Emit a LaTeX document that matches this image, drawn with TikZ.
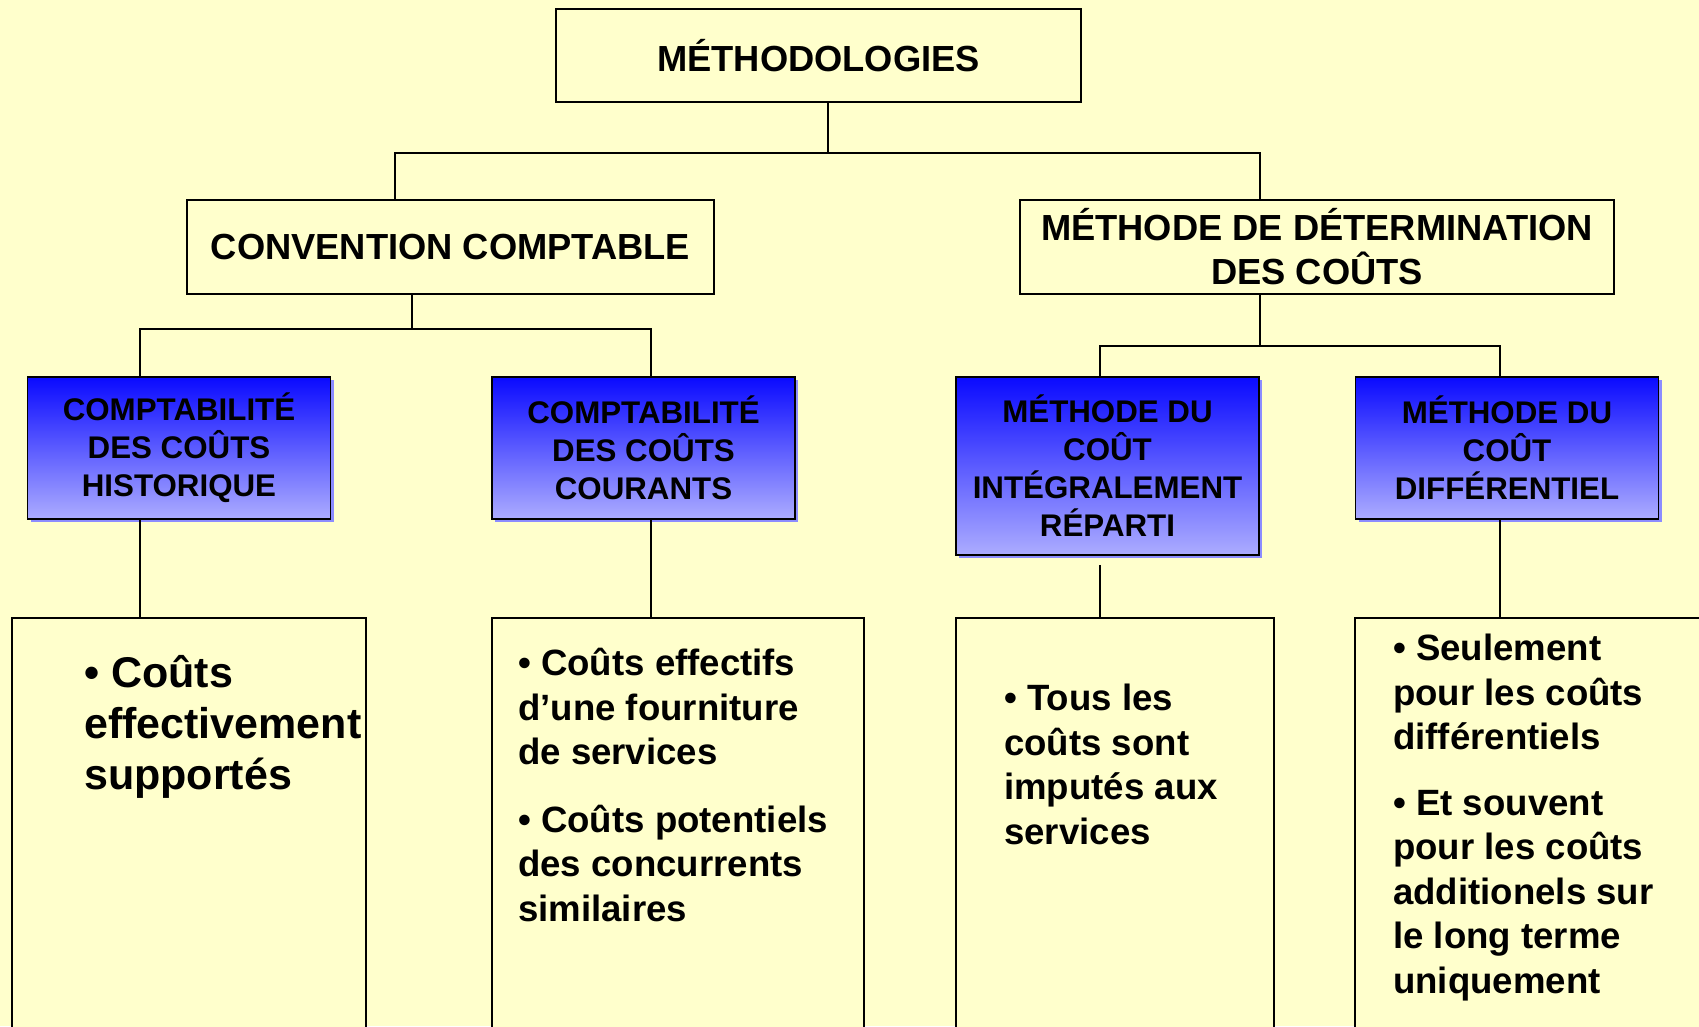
\documentclass[tikz,border=0pt]{standalone}
\usepackage{fontspec}
\setmainfont{Liberation Sans}
\usetikzlibrary{shadows}
\begin{document}
\begin{tikzpicture}[x=1pt,y=-1pt,
	box/.style={draw=black,line width=1.8pt,fill=bgyellow,inner sep=0pt,align=center,
		font=\bfseries\fontsize{36.3}{44}\selectfont},
	bluebox/.style={draw=black,line width=1.8pt,top color=topblue,bottom color=lowblue,
		inner sep=0pt,align=center,minimum width=303pt,font=\bfseries\fontsize{31.3}{38}\selectfont,
		drop shadow={shadow xshift=3pt,shadow yshift=-3pt,fill=shadeblue,opacity=1}},
	leafbox/.style={draw=black,line width=1.8pt,fill=bgyellow,inner sep=0pt,minimum height=440pt,anchor=north},
	leaftext/.style={anchor=north west,inner sep=0pt,align=left,font=\bfseries\fontsize{36.6}{44.5}\selectfont},
	link/.style={line width=1.8pt}]
	\definecolor{bgyellow}{RGB}{255,255,204}
	\definecolor{topblue}{RGB}{10,10,255}
	\definecolor{lowblue}{RGB}{172,172,255}
	\definecolor{shadeblue}{RGB}{140,140,255}

		\useasboundingbox (0,0) rectangle (1699,1026);
		\clip (0,0) rectangle (1699,1026);
		\fill[bgyellow] (0,0) rectangle (1699,1026);

		\node[box,minimum width=525pt,minimum height=93pt] (root) at (818.5,55.5) {MÉTHODOLOGIES};
		\node[box,minimum width=527pt,minimum height=94pt] (conv) at (450.5,247) {CONVENTION COMPTABLE};
		\node[box,minimum width=594pt,minimum height=94pt] (det) at (1317,247) {MÉTHODE DE DÉTERMINATION\\DES COÛTS};

		\node[bluebox,minimum height=142pt] (hist) at (179,448) {COMPTABILITÉ\\DES COÛTS\\HISTORIQUE};
		\node[bluebox,minimum height=142pt] (cour) at (643.5,448) {COMPTABILITÉ\\DES COÛTS\\COURANTS};
		\node[bluebox,minimum height=178pt] (integ) at (1107.5,466) {MÉTHODE DU\\COÛT\\INTÉGRALEMENT\\RÉPARTI};
		\node[bluebox,minimum height=142pt] (diff) at (1507,448) {MÉTHODE DU\\COÛT\\DIFFÉRENTIEL};

		\node[leafbox,minimum width=354pt] (histleaf) at (189,617) {};
		\node[leafbox,minimum width=372pt] (courleaf) at (678,617) {};
		\node[leafbox,minimum width=318pt] (integleaf) at (1115,617) {};
		\node[leafbox,minimum width=365pt] (diffleaf) at (1537.5,617) {};

		\node[leaftext,font=\bfseries\fontsize{43}{51}\selectfont] (histtext) at (84,655) {• Coûts\\effectivement\\supportés};
		\node[leaftext] (courtext) at (518,648) {• Coûts effectifs\\d’une fourniture\\de services\\[23pt]• Coûts potentiels\\des concurrents\\similaires};
		\node[leaftext] (integtext) at (1004,684) {• Tous les\\coûts sont\\imputés aux\\services};
		\node[leaftext] (difftext) at (1393,634) {• Seulement\\pour les coûts\\différentiels\\[21pt]• Et souvent\\pour les coûts\\additionels sur\\le long terme\\uniquement};

		\draw[link] (root.south -| 828,0) -- ++(0,50) -| (conv.north -| 395,0);
		\draw[link] (root.south -| 828,0) -- ++(0,50) -| (det.north -| 1260,0);
		\draw[link] (conv.south -| 412,0) -- ++(0,34) -| (hist.north -| 140,0);
		\draw[link] (conv.south -| 412,0) -- ++(0,34) -| (cour.north -| 651,0);
		\draw[link] (det.south -| 1260,0) -- ++(0,51) -| (integ.north -| 1100,0);
		\draw[link] (det.south -| 1260,0) -- ++(0,51) -| (diff.north -| 1500,0);
		\draw[link] (hist.south -| 140,0) -- (histleaf.north -| 140,0);
		\draw[link] (cour.south -| 651,0) -- (courleaf.north -| 651,0);
		\draw[link] (integ.south -| 1100,0) ++(0,9) -- (integleaf.north -| 1100,0);
		\draw[link] (diff.south -| 1500,0) -- (diffleaf.north -| 1500,0);
	\end{tikzpicture}
\end{document}
